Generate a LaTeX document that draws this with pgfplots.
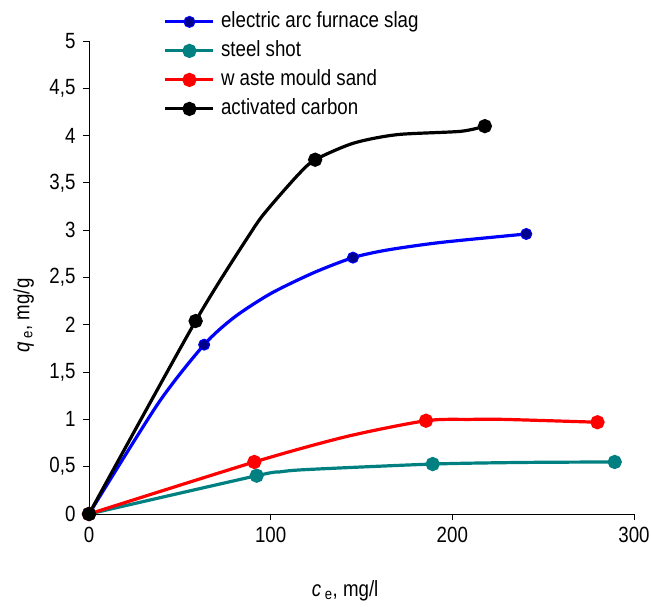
\documentclass[border=0pt]{standalone}
\usepackage{fontspec}
\setmainfont{Liberation Sans}[FakeStretch=0.85]
\usepackage{pgfplots}
\pgfplotsset{compat=1.18}

\definecolor{eafblue}{RGB}{0,0,255}
\definecolor{eafnavy}{RGB}{0,0,140}
\definecolor{shotteal}{RGB}{0,128,128}
\definecolor{sandred}{RGB}{255,0,0}

\pgfplotsset{
    series/.style={line width=3.2bp, smooth, tension=0.45, mark=*, mark size=5.5bp},
}

\begin{document}
\fontsize{22bp}{26bp}\selectfont
\begin{tikzpicture}
\begin{axis}[
    at={(0,0)}, anchor=south west,
    scale only axis,
    width=545bp, height=473bp,
    xmin=0, xmax=300, ymin=0, ymax=5,
    axis lines=left,
    axis line style={-, black, line width=0.8bp},
    tick style={black, line width=0.8bp},
    tick align=outside,
    major tick length=6bp,
    xtick={0,100,200,300},
    ytick={0,0.5,...,5},
    /pgf/number format/use comma,
    /pgf/number format/assume math mode=true,
    xlabel={\textit{c}\textsubscript{ e}, mg/l},
    ylabel={\textit{q}\textsubscript{ e}, mg/g},
    xlabel style={at={(axis description cs:0.47,-0.163)}, anchor=center},
    ylabel style={at={(axis description cs:-0.12,0.42)}, anchor=center},
    clip=false,
    legend cell align=left,
    legend style={at={(0.137,1.063)}, anchor=north west, draw=none, fill=none,
        inner sep=0pt, row sep=8bp,
        nodes={inner sep=0pt, text height=16bp, text depth=5bp},
        /tikz/every odd column/.append style={column sep=6bp}},
    legend image code/.code={
        \draw[mark=none] (0bp,0bp) -- (48bp,0bp);
        \draw[mark indices={1}] plot coordinates {(24bp,0bp)};},
]
% electric arc furnace slag
\addplot[series, color=eafblue, mark options={fill=eafnavy, draw=eafblue, line width=1bp},
    mark indices={1,3,7,10}] coordinates {
    (0,0) (38.1,1.17) (63.4,1.79) (80,2.08) (100,2.33) (123.6,2.55)
    (145.3,2.71) (164,2.79) (193.4,2.87) (240.7,2.96)
};
\addlegendentry{electric arc furnace slag}
% steel shot
\addplot[series, color=shotteal, mark options={fill=shotteal, draw=shotteal},
    mark indices={1,2,5,7}] coordinates {
    (0,0) (92.3,0.405) (105,0.445) (120,0.47) (189.2,0.528) (239.4,0.545) (289.4,0.55)
};
\addlegendentry{steel shot}
% waste mould sand
\addplot[series, color=sandred, mark options={fill=sandred, draw=sandred},
    mark indices={1,2,4,7}] coordinates {
    (0,0) (91,0.55) (142,0.82) (185.5,0.986) (210,1.0) (228.4,1.0) (279.9,0.97)
};
\addlegendentry{w aste mould sand}
% activated carbon
\addplot[series, color=black, mark options={fill=black, draw=black},
    mark indices={1,2,6,10}] coordinates {
    (0,0) (58.7,2.04) (89.6,2.99) (98.8,3.23) (115.3,3.59) (124.5,3.745)
    (145.6,3.92) (169.5,4.01) (204.5,4.045) (217.9,4.10)
};
\addlegendentry{activated carbon}
\end{axis}
\pgfresetboundingbox
\path[use as bounding box] (-89bp,-93bp) rectangle (562bp,514bp);
\end{tikzpicture}
\end{document}
